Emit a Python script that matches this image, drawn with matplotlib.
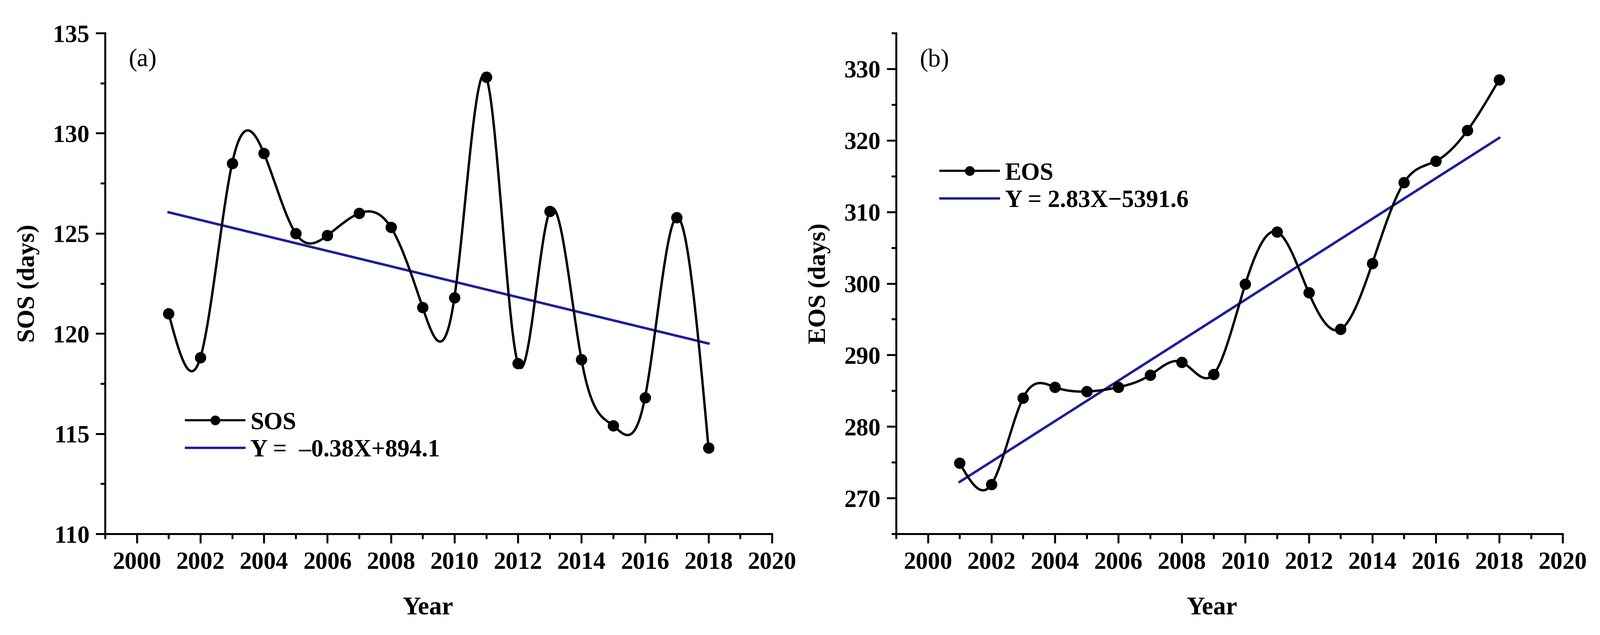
import numpy as np
import matplotlib
matplotlib.use("Agg")
import matplotlib.pyplot as plt
from matplotlib.lines import Line2D
from matplotlib.ticker import MultipleLocator

# -----------------------------------
# Data
# -----------------------------------
years = np.arange(2001, 2019)
sos = [121.0, 118.8, 128.5, 129.0, 125.0, 124.9, 126.0, 125.3, 121.3,
       121.8, 132.8, 118.5, 126.1, 118.7, 115.4, 116.8, 125.8, 114.3]
eos = [274.9, 271.9, 284.0, 285.5, 284.9, 285.5, 287.2, 289.0, 287.3,
       299.9, 307.2, 298.7, 293.6, 302.8, 314.1, 317.1, 321.4, 328.5]
sos_eq = "Y =  \u20130.38X+894.1"
eos_eq = "Y = 2.83X\u22125391.6"

BLUE = "#1e1e9a"
plt.rcParams["font.family"] = ["Liberation Serif", "DejaVu Serif"]
plt.rcParams["font.weight"] = "bold"


def natural_spline(x, y, n=600):
    # natural cubic spline through the points, only used to draw the smooth curve
    x = np.asarray(x, float)
    y = np.asarray(y, float)
    k = len(x)
    h = np.diff(x)
    A = np.zeros((k, k))
    b = np.zeros(k)
    A[0, 0] = A[-1, -1] = 1.0
    for i in range(1, k - 1):
        A[i, i - 1] = h[i - 1]
        A[i, i] = 2 * (h[i - 1] + h[i])
        A[i, i + 1] = h[i]
        b[i] = 6 * ((y[i + 1] - y[i]) / h[i] - (y[i] - y[i - 1]) / h[i - 1])
    M = np.linalg.solve(A, b)
    t = np.linspace(x[0], x[-1], n)
    idx = np.clip(np.searchsorted(x, t) - 1, 0, k - 2)
    x0, x1 = x[idx], x[idx + 1]
    hh = x1 - x0
    s = (M[idx] * (x1 - t) ** 3 / (6 * hh) + M[idx + 1] * (t - x0) ** 3 / (6 * hh)
         + (y[idx] / hh - M[idx] * hh / 6) * (x1 - t)
         + (y[idx + 1] / hh - M[idx + 1] * hh / 6) * (t - x0))
    return t, s


def draw_panel(ax, y, name, eq, ylim, ymaj, ymin, tag, ylabel, leg_xy, xlab_x):
    t, s = natural_spline(years, y)
    ax.plot(t, s, color="black", lw=4.4, zorder=3)
    ax.plot(years, y, "o", color="black", ms=20, zorder=4)

    coef = np.polyfit(years, y, 1)
    ax.plot(years, np.polyval(coef, years), color=BLUE, lw=4.6, zorder=2)

    handles = [Line2D([], [], color="black", lw=4.0, marker="o", ms=17),
               Line2D([], [], color=BLUE, lw=4.4)]
    ax.legend(handles, [name, eq], loc="center left", bbox_to_anchor=leg_xy,
              frameon=False, fontsize=45, handlelength=2.4, handletextpad=0.25,
              labelspacing=0.2, borderpad=0, borderaxespad=0)

    ax.set_xlim(1999, 2020)
    ax.set_ylim(*ylim)
    ax.xaxis.set_major_locator(MultipleLocator(2))
    ax.xaxis.set_minor_locator(MultipleLocator(1))
    ax.yaxis.set_major_locator(MultipleLocator(ymaj))
    ax.yaxis.set_minor_locator(MultipleLocator(ymin))

    for side in ["top", "right"]:
        ax.spines[side].set_visible(False)
    for side in ["left", "bottom"]:
        ax.spines[side].set_linewidth(3.6)

    ax.tick_params(which="major", length=17, width=3.6, labelsize=45)
    ax.tick_params(which="minor", length=9, width=3.6)
    ax.tick_params(axis="x", which="major", pad=16)
    ax.tick_params(axis="y", which="major", pad=12)

    ax.set_xlabel("Year", fontsize=47, fontweight="bold")
    ax.xaxis.set_label_coords(xlab_x, -0.125)
    ax.set_ylabel(ylabel, fontsize=46, fontweight="bold")
    ax.yaxis.set_label_coords(-0.098, 0.5)

    ax.text(0.035, 0.946, tag, transform=ax.transAxes, fontsize=47,
            fontweight="normal", ha="left", va="center")


fig = plt.figure(figsize=(41.12, 16.32), dpi=100)
ax1 = fig.add_axes([0.0657, 0.1593, 0.4168, 0.7886])
ax2 = fig.add_axes([0.5601, 0.1593, 0.4166, 0.7886])

draw_panel(ax1, sos, "SOS", sos_eq, (110, 135), 5, 2.5, "(a)", "SOS (days)",
           (0.121, 0.194), 0.484)
draw_panel(ax2, eos, "EOS", eos_eq, (265, 335), 10, 5, "(b)", "EOS (days)",
           (0.0666, 0.692), 0.474)

fig.savefig("out.png", dpi=100)
